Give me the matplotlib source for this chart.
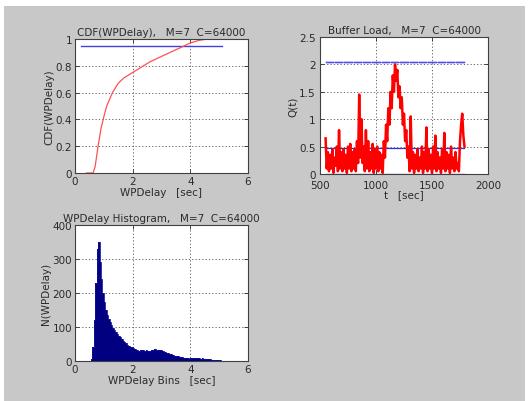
import numpy as np
import matplotlib
matplotlib.use("Agg")
import matplotlib.pyplot as plt
from matplotlib.patches import Rectangle

# ---------------- data ----------------
cdf_x = [0.4, 0.63, 0.7, 0.8, 0.9, 1.0, 1.1, 1.3, 1.5, 1.7, 2.0, 2.3, 2.6, 3.0, 3.3, 3.6, 4.0, 4.3, 4.6, 4.9]
cdf_y = [0.0, 0.0, 0.05, 0.2, 0.33, 0.42, 0.5, 0.6, 0.67, 0.71, 0.75, 0.79, 0.83, 0.87, 0.9, 0.93, 0.97, 0.99, 1.0, 1.0]
cdf_pct_level = 0.95
cdf_pct_range = [0.2, 5.1]

t_start, t_step = 550, 10
queue = [0.65, 0.1, 0.4, 0.05, 0.35, 0.1,
         0.45, 0.02, 0.3, 0.15, 0.5, 0.05,
         0.8, 0.1, 0.4, 0.05, 0.45, 0.1,
         0.35, 0.02, 0.5, 0.1, 0.55, 0.05,
         0.4, 0.1, 0.45, 0.05, 0.6, 0.2,
         1.45, 0.3, 1.0, 0.2, 0.5, 0.05,
         0.8, 0.1, 0.6, 0.05, 0.4, 0.1,
         0.55, 0.02, 0.45, 0.1, 0.5, 0.05,
         0.4, 0.1, 0.35, 0.02, 0.6, 0.3,
         0.9, 0.6, 1.2, 0.9, 1.5, 1.2,
         1.8, 1.5, 2.0, 1.7, 1.9, 1.4,
         1.6, 1.2, 1.4, 0.9, 1.1, 0.6,
         0.8, 0.3, 0.5, 0.05, 1.05, 0.1,
         0.4, 0.02, 0.35, 0.1, 0.45, 0.05,
         0.3, 0.1, 0.5, 0.02, 0.4, 0.1,
         0.85, 0.05, 0.45, 0.1, 0.35, 0.02,
         0.5, 0.1, 0.7, 0.05, 0.4, 0.1,
         0.3, 0.02, 0.45, 0.1, 0.75, 0.05,
         0.4, 0.1, 0.35, 0.02, 0.5, 0.1,
         0.3, 0.05, 0.4, 0.1, 0.2, 0.05,
         0.6, 0.9, 1.1, 0.7, 0.5]
q_upper = 2.05
q_lower = 0.47

bin_start, bin_width = 0.5, 0.05
hist_counts = [0, 5, 40, 120, 230, 330, 350, 290, 240, 200,
               175, 150, 135, 125, 115, 105, 98, 92, 85, 80,
               75, 70, 65, 60, 56, 52, 48, 45, 42, 40,
               37, 35, 33, 31, 30, 31, 32, 31, 30, 31,
               30, 29, 30, 32, 33, 34, 33, 32, 33, 31,
               30, 28, 26, 25, 23, 22, 20, 19, 18, 16,
               15, 14, 13, 12, 11, 10, 9, 8, 8, 7,
               9, 10, 9, 10, 8, 9, 8, 7, 8, 7,
               6, 6, 5, 5, 4, 4, 4, 3, 3, 2,
               2, 1, 1, 0]

# ---------------- figure ----------------
W, H = 530, 402
fig = plt.figure(figsize=(W / 100, H / 100), dpi=100, facecolor="white")
fig.patches.append(Rectangle((4 / W, 0), 521 / W, 395 / H, transform=fig.transFigure,
                             facecolor="#c8c8c8", edgecolor="none", zorder=-10))

FS = 7.5
TXT = "#2a2a2a"


def style(ax, xlim, ylim, xticks, yticks, xtl=None, ytl=None, xpad=2, ypad=2):
    ax.set_facecolor("white")
    ax.set_xlim(*xlim)
    ax.set_ylim(*ylim)
    ax.set_xticks(xticks)
    ax.set_yticks(yticks)
    if xtl is not None:
        ax.set_xticklabels(xtl)
    if ytl is not None:
        ax.set_yticklabels(ytl)
    ax.tick_params(labelsize=FS, colors=TXT, direction="in", length=3, width=0.6,
                   top=True, right=True)
    ax.tick_params(axis="x", pad=xpad)
    ax.tick_params(axis="y", pad=ypad)
    for s in ax.spines.values():
        s.set_color("#404040")
        s.set_linewidth(0.8)
    ax.grid(True, linestyle=(0, (1.5, 2.5)), color="#505050", linewidth=0.6)
    ax.set_axisbelow(True)


# top-left CDF
ax1 = fig.add_axes([75 / W, 1 - 174 / H, 173 / W, 134 / H])
ax1.plot(cdf_pct_range, [cdf_pct_level, cdf_pct_level], color="#4040e0", lw=1.0)
ax1.plot(cdf_x, cdf_y, color="#ff5050", lw=0.9)
style(ax1, (0, 6), (0, 1), [0, 2, 4, 6], [0, 0.2, 0.4, 0.6, 0.8, 1],
      ["0", "2", "4", "6"], ["0", "0.2", "0.4", "0.6", "0.8", "1"])
ax1.set_title("CDF(WPDelay),   M=7  C=64000", fontsize=FS, color=TXT, pad=3)
ax1.set_xlabel("WPDelay   [sec]", fontsize=FS, color=TXT, labelpad=1)
ax1.set_ylabel("CDF(WPDelay)", fontsize=FS, color=TXT, labelpad=1)

# top-right buffer load
t = t_start + t_step * np.arange(len(queue))
ax2 = fig.add_axes([320 / W, 1 - 175 / H, 168 / W, 137 / H])
ax2.plot(t, np.full(len(t), q_upper), color="#5050e8", lw=0.5, marker="+", ms=2, mew=0.5)
ax2.plot(t, np.full(len(t), q_lower), color="#3030e0", lw=0.9)
ax2.plot(t, np.zeros(len(t)), color="#3030e0", lw=0.9)
ax2.plot(t, queue, color="#ff0000", lw=1.8)
style(ax2, (500, 2000), (0, 2.5), [500, 1000, 1500, 2000], [0, 0.5, 1, 1.5, 2, 2.5],
      ["500", "1000", "1500", "2000"], ["0", "0.5", "1", "1.5", "2", "2.5"],
      xpad=4, ypad=3)
ax2.set_title("Buffer Load,   M=7  C=64000", fontsize=FS, color=TXT, pad=3)
ax2.set_xlabel("t   [sec]", fontsize=FS, color=TXT, labelpad=0)
ax2.set_ylabel("Q(t)", fontsize=FS, color=TXT, labelpad=1)

# bottom-left histogram
edges = bin_start + bin_width * np.arange(len(hist_counts) + 1)
ax3 = fig.add_axes([75 / W, 1 - 362 / H, 173 / W, 136 / H])
ax3.stairs(hist_counts, edges, fill=True, color="#000080", linewidth=0)
ax3.stairs(hist_counts, edges, fill=False, color="#1010a0", linewidth=0.6)
style(ax3, (0, 6), (0, 400), [0, 2, 4, 6], [0, 100, 200, 300, 400],
      ["0", "2", "4", "6"], ["0", "100", "200", "300", "400"])
ax3.set_title("WPDelay Histogram,   M=7  C=64000", fontsize=FS, color=TXT, pad=3)
ax3.set_xlabel("WPDelay Bins   [sec]", fontsize=FS, color=TXT, labelpad=1)
ax3.set_ylabel("N(WPDelay)", fontsize=FS, color=TXT, labelpad=1)

fig.savefig("out.png", dpi=100, facecolor=fig.get_facecolor())
